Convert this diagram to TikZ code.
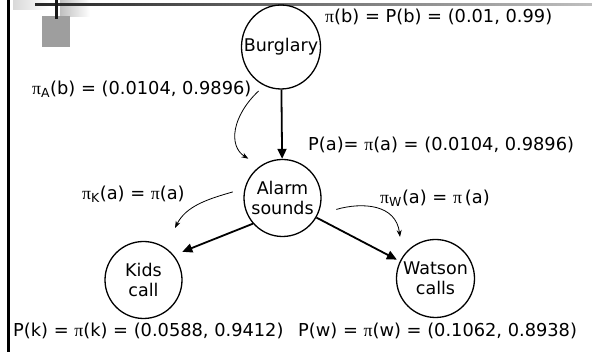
\documentclass[tikz,border=0pt]{standalone}
\usepackage{fontspec}
\setmainfont{DejaVu Sans}
\newfontfamily\pifont{Liberation Serif}
\usetikzlibrary{arrows.meta,calc,shapes.geometric}
\newcommand{\PI}{{\pifont π}}
\tikzset{
  var/.style={circle, draw, line width=1.3pt, minimum size=77pt, inner sep=-20pt,
              align=center, font=\fontsize{17.5}{20.5}\selectfont},
  lbl/.style={anchor=west, inner sep=0pt, font=\fontsize{17.8}{21}\selectfont},
  link/.style={line width=1.8pt, -{Triangle[length=10pt,width=9pt]}},
  msg/.style={line width=0.8pt, -{Stealth[length=7pt,width=5pt]}},
}
\begin{document}
\begin{tikzpicture}[x=1pt,y=1pt]
\useasboundingbox (0,0) rectangle (592,352);
\fill[white] (0,0) rectangle (592,352);

% slide decoration: side rule, title rule and corner mark
\shade[left color=black!15, right color=white] (13,342) rectangle (50,352);
\shade[left color=black!25, right color=white] (60,335) rectangle (90,352);
\fill[black] (7,0) rectangle (9.5,352);
\shade[left color=black!85, right color=black!25] (35,346.5) rectangle (592,348.5);
\fill[black!38] (42,305) rectangle (70,336);
\fill[black!90] (55,333) rectangle (58,352);

% network nodes
\node[var, ellipse, minimum width=79pt, minimum height=84pt] (burg) at (281,305) {Burglary};
\node[var] (alarm) at (282.5,154) {Alarm\\sounds};
\node[var] (kids) at (143.5,72) {Kids\\call};
\node[var, minimum size=78pt] (watson) at (435.5,73.5) {Watson\\calls};

% messages and beliefs
\node[lbl] (lb) at (325,335) {\PI(b) = P(b) = (0.01, 0.99)};
\node[lbl] (lA) at (32,263) {\PI\textsubscript{A}(b) = (0.0104, 0.9896)};
\node[lbl] (lPa) at (308,207) {P(a)= \PI(a) = (0.0104, 0.9896)};
\node[lbl] (lK) at (82,158) {\PI\textsubscript{K}(a) = \PI(a)};
\node[lbl] (lW) at (380,154) {\PI\textsubscript{W}(a) = \PI\,(a)};
\node[lbl] (lPk) at (13,21) {P(k) = \PI(k) = (0.0588, 0.9412)};
\node[lbl] (lPw) at (298,21) {P(w) = \PI(w) = (0.1062, 0.8938)};

% causal links
\draw[link] (burg) -- (alarm);
\coordinate (kIn) at ($(kids.center)+(36:48pt)$);
\coordinate (wIn) at ($(watson.center)+(154:43pt)$);
\draw[link] (alarm.221) -- (kIn);
\draw[link] (alarm.-30) -- (wIn);

% pi-message flow
\coordinate (aOut) at ($(lA.east)+(7,-2)$);
\coordinate (aIn) at ($(alarm.center)+(131:52pt)$);
\draw[msg] (aOut) .. controls (232,236) and (228,206) .. (aIn);
\coordinate (kOut) at ($(alarm.center)+(173:50pt)$);
\coordinate (kTo) at (175,124);
\draw[msg] (kOut) .. controls (208,153) and (186,146) .. (kTo);
\coordinate (wOut) at ($(alarm.center)+(-12:55pt)$);
\coordinate (wTo) at (400,115);
\draw[msg] (wOut) .. controls (362,150) and (396,148) .. (wTo);
\end{tikzpicture}
\end{document}
